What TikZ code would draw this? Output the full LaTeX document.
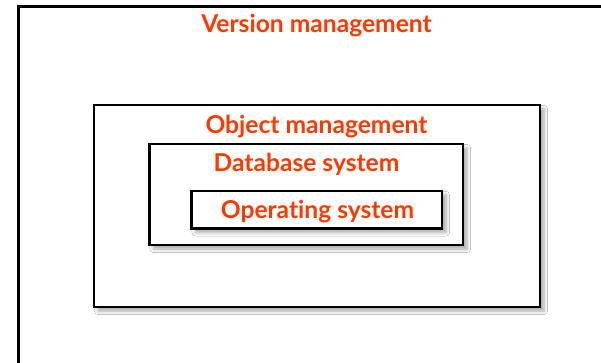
\documentclass[tikz,border=0pt]{standalone}
\usepackage{fontspec}
\setmainfont{Lato}[Ligatures={NoCommon,NoDiscretionary}]
\usetikzlibrary{shadows.blur}
\definecolor{layerred}{RGB}{255,56,0}
\begin{document}
\begin{tikzpicture}[
    layerbox/.style={draw=black, line width=1.5pt, fill=white,
        blur shadow={shadow xshift=0.08cm, shadow yshift=-0.08cm, shadow blur steps=6, shadow opacity=35}},
    layertext/.style={text=layerred, font=\fontsize{14}{16}\selectfont\bfseries, anchor=base, inner sep=0pt}
]
    \useasboundingbox (0,0) rectangle (12.02,7.24);
    \clip (0,0) rectangle (12.02,7.24);

    % Layers
    \draw[line width=1.6pt, fill=white] (0.37,-0.5) rectangle (12.6,7.11);
    \draw[layerbox] (1.88,1.10) rectangle (10.80,5.14);
    \draw[layerbox] (2.99,2.34) rectangle (9.26,4.36);
    \draw[layerbox] (3.83,2.67) rectangle (8.84,3.42);

    % Names
    \node[layertext] (version) at (6.33,6.58) {Version management};
    \node[layertext] (object) at (6.33,4.58) {Object management};
    \node[layertext] (database) at (6.13,3.82) {Database system};
    \node[layertext] (operating) at (6.35,2.88) {Operating system};
\end{tikzpicture}
\end{document}
